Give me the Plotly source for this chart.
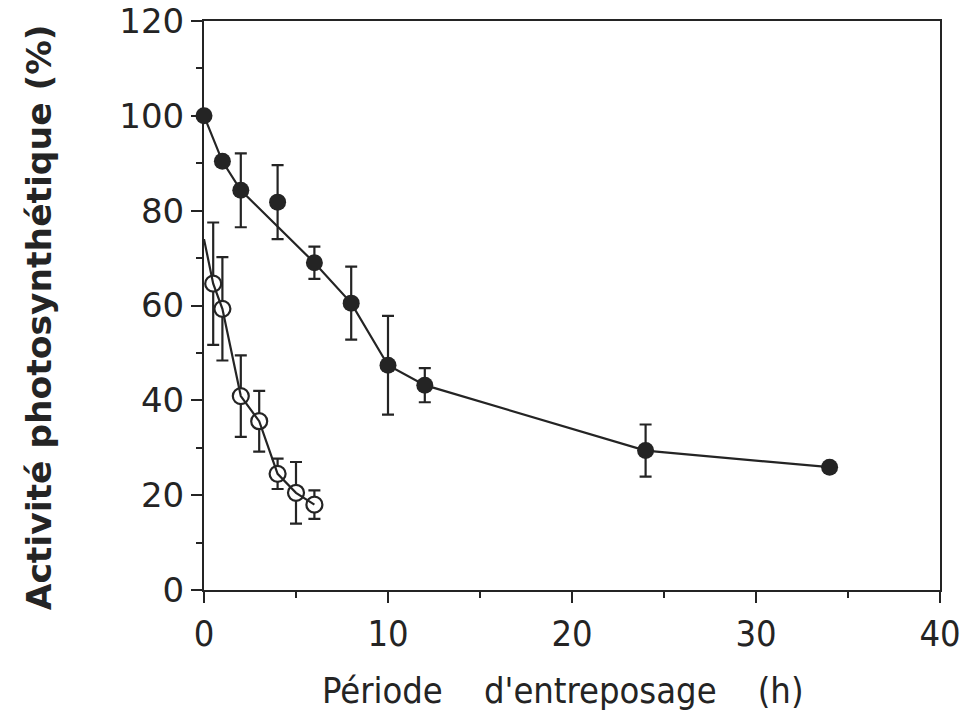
import plotly.graph_objects as go

# Filled circles (series 1)
filled_x = [0, 1, 2, 4, 6, 8, 10, 12, 24, 34]
filled_y = [100, 90.4, 84.3, 81.8, 69.0, 60.5, 47.4, 43.2, 29.4, 25.9]
filled_err = [0, 0, 7.8, 7.8, 3.4, 7.7, 10.4, 3.6, 5.5, 0]
filled_on_line = [True, True, True, False, True, True, True, True, True, True]

# Open circles (series 2)
open_x = [0.5, 1, 2, 3, 4, 5, 6]
open_y = [64.6, 59.3, 40.9, 35.6, 24.5, 20.5, 18.0]
open_err = [12.9, 10.9, 8.6, 6.4, 3.2, 6.5, 3.0]
open_line_x0 = 0
open_line_y0 = 74

x_ticks = [0, 10, 20, 30, 40]
y_ticks = [0, 20, 40, 60, 80, 100, 120]

x_title = "Période\u00a0\u00a0\u00a0\u00a0d'entreposage\u00a0\u00a0\u00a0\u00a0(h)"
y_title = "Activité photosynthétique (%)"

INK = "#242424"
XFONT = "DejaVu Sans Condensed, Liberation Sans Narrow, Liberation Sans"

fig = go.Figure()

# filled series line
lx = [x for x, k in zip(filled_x, filled_on_line) if k]
ly = [y for y, k in zip(filled_y, filled_on_line) if k]
fig.add_trace(go.Scatter(x=lx, y=ly, mode="lines",
                         line=dict(color=INK, width=2.2), hoverinfo="skip"))

# filled series markers + error bars
fig.add_trace(go.Scatter(
    x=filled_x, y=filled_y, mode="markers",
    marker=dict(symbol="circle", size=17, color=INK, line=dict(width=0)),
    error_y=dict(type="data", array=filled_err, visible=True,
                 color=INK, thickness=2.2, width=6),
    cliponaxis=False))

# open series markers + error bars
fig.add_trace(go.Scatter(
    x=open_x, y=open_y, mode="markers",
    marker=dict(symbol="circle", size=16, color="white",
                line=dict(width=2.2, color=INK)),
    error_y=dict(type="data", array=open_err, visible=True,
                 color=INK, thickness=2.2, width=6),
    cliponaxis=False))

# open series line (drawn over the open circles)
fig.add_trace(go.Scatter(x=[open_line_x0] + open_x, y=[open_line_y0] + open_y,
                         mode="lines", line=dict(color=INK, width=2.2),
                         hoverinfo="skip"))

fig.update_layout(
    width=969, height=728,
    margin=dict(l=204, r=29, t=21, b=138),
    paper_bgcolor="white", plot_bgcolor="white",
    showlegend=False,
    xaxis=dict(
        range=[0, 40], tickvals=x_ticks, ticktext=[str(v) for v in x_ticks],
        automargin=False, ticklabeloverflow="allow",
        showgrid=False, zeroline=False,
        showline=True, linecolor=INK, linewidth=2, mirror=True,
        ticks="outside", ticklen=11, tickwidth=2, tickcolor=INK,
        minor=dict(dtick=5, ticks="outside", ticklen=6, tickwidth=2, tickcolor=INK),
        tickfont=dict(family=XFONT, size=36, color=INK),
    ),
    yaxis=dict(
        range=[0, 120], tickvals=y_ticks, ticktext=[str(v) for v in y_ticks],
        automargin=False, ticklabeloverflow="allow",
        showgrid=False, zeroline=False,
        showline=True, linecolor=INK, linewidth=2, mirror=True,
        ticks="outside", ticklen=11, tickwidth=2, tickcolor=INK,
        minor=dict(dtick=10, ticks="outside", ticklen=6, tickwidth=2, tickcolor=INK),
        tickfont=dict(family="DejaVu Sans", size=34, color=INK),
    ),
    annotations=[
        dict(text=x_title, xref="paper", yref="paper", x=0.488, y=-0.177,
             xanchor="center", yanchor="middle", showarrow=False,
             font=dict(family=XFONT, size=36, color=INK)),
        dict(text="<b>" + y_title + "</b>", xref="paper", yref="paper",
             x=-0.223, y=0.479, xanchor="center", yanchor="middle",
             textangle=-90, showarrow=False,
             font=dict(family="DejaVu Sans", size=34.5, color=INK)),
    ],
)

fig.write_html("out.html", config={"displayModeBar": False},
               post_script="document.body.style.margin='0';document.body.style.overflow='hidden';")
